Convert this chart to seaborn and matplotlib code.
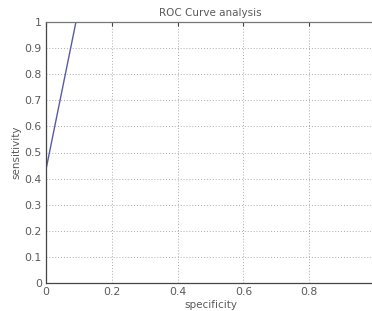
import pandas as pd
import numpy as np
import matplotlib
matplotlib.use('Agg')
import matplotlib.pyplot as plt
import seaborn as sns

# ROC curve points
specificity = [0.0, 0.091]
sensitivity = [0.435, 1.0]

x_ticks = [0, 0.2, 0.4, 0.6, 0.8]
x_tick_labels = ['0', '0.2', '0.4', '0.6', '0.8']
y_ticks = [0, 0.1, 0.2, 0.3, 0.4, 0.5, 0.6, 0.7, 0.8, 0.9, 1]
y_tick_labels = ['0', '0.1', '0.2', '0.3', '0.4', '0.5', '0.6', '0.7', '0.8', '0.9', '1']

df = pd.DataFrame({'specificity': specificity, 'sensitivity': sensitivity})

sns.set_style('white')
plt.rcParams['font.family'] = ['DejaVu Sans']

text_col = '#5a5a5a'
fig = plt.figure(figsize=(3.72, 3.11), dpi=100)
# axes run slightly past the right edge, as in the cropped reference
ax = fig.add_axes([46 / 372, 28 / 311, 329 / 372, 261 / 311])

sns.lineplot(data=df, x='specificity', y='sensitivity', ax=ax,
             color='#5a5aa8', linewidth=1.0)

ax.set_xlim(0, 1)
ax.set_ylim(0, 1)
ax.set_xticks(x_ticks)
ax.set_xticklabels(x_tick_labels)
ax.set_yticks(y_ticks)
ax.set_yticklabels(y_tick_labels)
ax.tick_params(direction='in', length=3, width=0.8, colors='#444444',
               labelcolor=text_col, labelsize=7.8, pad=3)
ax.tick_params(top=True)
ax.grid(True, linestyle=(0, (1, 2)), color='#aaaaaa', linewidth=0.7)
for side in ['left', 'bottom', 'top']:
    ax.spines[side].set_color('#444444')
    ax.spines[side].set_linewidth(0.9)
ax.spines['top'].set_color('#777777')
ax.spines['right'].set_visible(False)

ax.set_title('ROC Curve analysis', fontsize=7.5, color=text_col, pad=4)
ax.set_xlabel('specificity', fontsize=7.5, color=text_col, labelpad=2)
ax.set_ylabel('sensitivity', fontsize=7.5, color=text_col, labelpad=2)

fig.savefig('out.png', dpi=100, facecolor='white')
